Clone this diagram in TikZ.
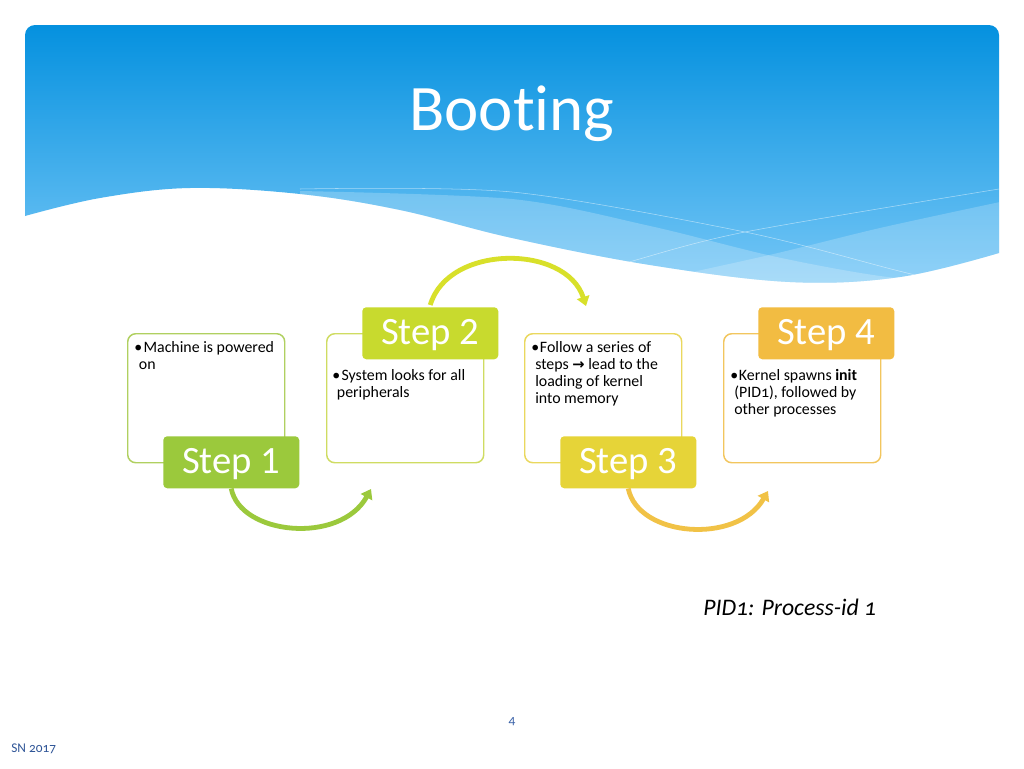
\documentclass[tikz,border=0pt]{standalone}
\usepackage{fontspec}
\setmainfont{Carlito}[Numbers=OldStyle]
\newfontfamily\liningfont{Carlito}[Numbers=Lining]
\newfontfamily\symfont{DejaVu Sans}
\usetikzlibrary{arrows.meta}
\definecolor{hdrtop}{RGB}{5,145,223}
\definecolor{hdrbot}{RGB}{120,200,247}
\definecolor{bonec}{HTML}{B0D060}
\definecolor{sonec}{HTML}{9BC93C}
\definecolor{btwoc}{HTML}{CFDC62}
\definecolor{stwoc}{HTML}{C8DA2E}
\definecolor{bthreec}{HTML}{EAD85E}
\definecolor{sthreec}{HTML}{E6D438}
\definecolor{bfourc}{HTML}{F2C65E}
\definecolor{sfourc}{HTML}{F2BC42}
\definecolor{aonec}{HTML}{9BC93C}
\definecolor{atwoc}{HTML}{D8E02A}
\definecolor{athreec}{HTML}{F1C246}
\definecolor{pagec}{HTML}{3A62A8}
\definecolor{footc}{HTML}{2F5597}
\begin{document}
\begin{tikzpicture}[x=0.75pt,y=-0.75pt,
  boxstyle/.style={draw=#1, line width=1.1pt, rounded corners=6pt,
    minimum width=117.75pt, minimum height=96.75pt, anchor=north west,
    inner sep=0pt, fill=white},
  stepstyle/.style={fill=#1, text=white, rounded corners=3pt,
    minimum width=102pt, minimum height=39pt, anchor=north west, inner sep=0pt,
    font=\liningfont\fontsize{29pt}{34pt}\selectfont, text height=19pt, text depth=2pt},
  bodystyle/.style={font=\fontsize{11.9pt}{12.75pt}\selectfont, align=left,
    anchor=north west, inner sep=0pt},
  arrstyle/.style={draw=#1, line width=3.6pt,
    -{Triangle[length=7pt,width=9.5pt]}}
]
\useasboundingbox (0,0) rectangle (1024,768);
\fill[white] (0,0) rectangle (1024,768);
% header
\begin{scope}
  \clip[rounded corners=7.5pt] (25,150) -- (25,25) -- (999,25) -- (999,150) [sharp corners] -- (999,253)
     -- plot[smooth, tension=0.6] coordinates {(999,253) (900,277) (790,282) (650,265) (512,238) (400,210) (300,194) (190,188) (100,198) (25,216)} -- cycle;
  \shade[top color=hdrtop, bottom color=hdrbot] (25,25) rectangle (999,290);
  \fill[white, opacity=0.22] plot[smooth] coordinates {(300,191) (512,199) (650,226) (772,256) (880,276) (1000,288)} -- (1000,330) -- (300,330) -- cycle;
  \fill[white, opacity=0.2] plot[smooth] coordinates {(600,292) (765,256) (880,228) (1000,202)} -- (1000,330) -- (600,330) -- cycle;
  \draw[white, opacity=0.5, line width=0.4pt] plot[smooth] coordinates {(300,189) (512,192) (745,232) (895,270) (960,286)};
  \draw[white, opacity=0.5, line width=0.4pt] plot[smooth] coordinates {(560,283) (629,262) (745,232) (999,189)};
\end{scope}
\node[font=\fontsize{48.7pt}{58pt}\selectfont, text=white, anchor=base, inner sep=0pt] (title) at (512,130) {Boot\kern0pt ing};
% boxes
\node[boxstyle=bonec] (b1) at (127,333) {};
\node[boxstyle=btwoc] (b2) at (326,333) {};
\node[boxstyle=bthreec] (b3) at (524,333) {};
\node[boxstyle=bfourc] (b4) at (723,333) {};
% body texts
\node[bodystyle] (t1) at (134,340) {\strut\makebox[7pt][l]{•}Machine is powered\\\hspace*{3.5pt}on};
\node[bodystyle] (t2) at (332,368) {\strut\makebox[7pt][l]{•}System looks for all\\\hspace*{3.5pt}peripherals};
\node[bodystyle] (t3) at (531,340) {\strut\makebox[6.5pt][l]{•}Follow a series of\\\hspace*{3pt}steps {\symfont\bfseries\fontsize{11pt}{12pt}\selectfont →} lead to the\\\hspace*{3pt}loading of kernel\\\hspace*{3pt}into memory};
\node[bodystyle] (t4) at (730,368) {\strut\makebox[6.5pt][l]{•}Kernel spawns \textbf{init}\\\hspace*{3pt}(PID1), followed by\\\hspace*{3pt}other processes};
% step labels
\node[stepstyle=sonec] (s1) at (163,436) {Step 1};
\node[stepstyle=stwoc] (s2) at (362,307) {Step 2};
\node[stepstyle=sthreec] (s3) at (560,436) {Step 3};
\node[stepstyle=sfourc] (s4) at (758,307) {Step 4};
% arrows
\coordinate (e1) at (371,489);
\coordinate (e2) at (586,306);
\coordinate (e3) at (768,491);
\draw[arrstyle=aonec] (s1.south) .. controls (240,535) and (340,545) .. (e1);
\draw[arrstyle=atwoc] ([yshift=1.5pt]s2.north) .. controls (448,244) and (566,244) .. (e2);
\draw[arrstyle=athreec] (s3.south) .. controls (638,537) and (737,545) .. (e3);
% notes
\node[font=\fontsize{17.8pt}{20pt}\selectfont\itshape, anchor=base west, inner sep=0pt] (pid) at (703,615) {PID1: Process-id 1};
\node[font=\fontsize{10pt}{12pt}\selectfont, text=pagec, anchor=base, inner sep=0pt] (pg) at (512,724) {4};
\node[font=\fontsize{10pt}{12pt}\selectfont, text=footc, anchor=base west, inner sep=0pt] (foot) at (11,752) {SN 2017};
\end{tikzpicture}
\end{document}
